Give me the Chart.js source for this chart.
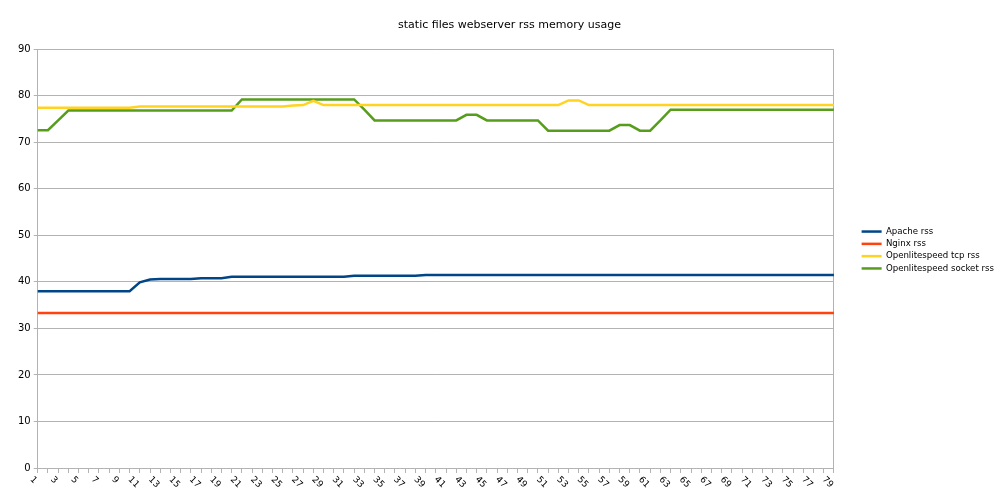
<!DOCTYPE html>
<html>
<head>
<meta charset="utf-8">
<script src="https://cdn.jsdelivr.net/npm/chart.js@4"></script>
<style>
  html, body { margin: 0; padding: 0; background: #fff; }
  #wrap { width: 1000px; height: 500px; }
</style>
</head>
<body>
<div id="wrap"><canvas id="myChart" width="1000" height="500"></canvas></div>
<script>
'use strict'

// categories (sample number)
var categories = ['1','2','3','4','5','6','7','8','9','10','11','12','13','14','15','16','17','18','19','20',
    '21','22','23','24','25','26','27','28','29','30','31','32','33','34','35','36','37','38','39','40',
    '41','42','43','44','45','46','47','48','49','50','51','52','53','54','55','56','57','58','59','60',
    '61','62','63','64','65','66','67','68','69','70','71','72','73','74','75','76','77','78','79'];

var seriesNames = ['Apache rss', 'Nginx rss', 'Openlitespeed tcp rss', 'Openlitespeed socket rss'];

var apacheRss = [38.0,38.0,38.0,38.0,38.0,38.0,38.0,38.0,38.0,38.0,
    39.9,40.5,40.6,40.6,40.6,40.6,40.8,40.8,40.8,41.1,
    41.1,41.1,41.1,41.1,41.1,41.1,41.1,41.1,41.1,41.1,
    41.1,41.3,41.3,41.3,41.3,41.3,41.3,41.3,41.5,41.5,
    41.5,41.5,41.5,41.5,41.5,41.5,41.5,41.5,41.5,41.5,
    41.5,41.5,41.5,41.5,41.5,41.5,41.5,41.5,41.5,41.5,
    41.5,41.5,41.5,41.5,41.5,41.5,41.5,41.5,41.5,41.5,
    41.5,41.5,41.5,41.5,41.5,41.5,41.5,41.5,41.5];

var nginxRss = [33.3,33.3,33.3,33.3,33.3,33.3,33.3,33.3,33.3,33.3,
    33.3,33.3,33.3,33.3,33.3,33.3,33.3,33.3,33.3,33.3,
    33.3,33.3,33.3,33.3,33.3,33.3,33.3,33.3,33.3,33.3,
    33.3,33.3,33.3,33.3,33.3,33.3,33.3,33.3,33.3,33.3,
    33.3,33.3,33.3,33.3,33.3,33.3,33.3,33.3,33.3,33.3,
    33.3,33.3,33.3,33.3,33.3,33.3,33.3,33.3,33.3,33.3,
    33.3,33.3,33.3,33.3,33.3,33.3,33.3,33.3,33.3,33.3,
    33.3,33.3,33.3,33.3,33.3,33.3,33.3,33.3,33.3];

var olsTcpRss = [77.4,77.4,77.4,77.4,77.4,77.4,77.4,77.4,77.4,77.4,
    77.7,77.7,77.7,77.7,77.7,77.7,77.7,77.7,77.7,77.7,
    77.7,77.7,77.7,77.7,77.7,77.9,78.0,78.9,78.0,78.0,
    78.0,78.0,78.0,78.0,78.0,78.0,78.0,78.0,78.0,78.0,
    78.0,78.0,78.0,78.0,78.0,78.0,78.0,78.0,78.0,78.0,
    78.0,78.0,79.0,79.0,78.0,78.0,78.0,78.0,78.0,78.0,
    78.0,78.0,78.0,78.0,78.0,78.0,78.0,78.0,78.0,78.0,
    78.0,78.0,78.0,78.0,78.0,78.0,78.0,78.0,78.0];

var olsSocketRss = [72.6,72.6,74.7,76.8,76.8,76.8,76.8,76.8,76.8,76.8,
    76.8,76.8,76.8,76.8,76.8,76.8,76.8,76.8,76.8,76.8,
    79.2,79.2,79.2,79.2,79.2,79.2,79.2,79.2,79.2,79.2,
    79.2,79.2,77.0,74.7,74.7,74.7,74.7,74.7,74.7,74.7,
    74.7,74.7,75.9,75.9,74.7,74.7,74.7,74.7,74.7,74.7,
    72.5,72.5,72.5,72.5,72.5,72.5,72.5,73.7,73.7,72.5,
    72.5,74.7,77.0,77.0,77.0,77.0,77.0,77.0,77.0,77.0,
    77.0,77.0,77.0,77.0,77.0,77.0,77.0,77.0,77.0];

var yTicks = [0, 10, 20, 30, 40, 50, 60, 70, 80, 90];

// 色 (LibreOffice default palette)
var defColor = ['#004586', '#ff420e', '#ffd320', '#579d1c'];
var gridColor = '#b3b3b3';
var fontName = '"DejaVu Sans", sans-serif';

// x軸ラベル: 45度 右下向き
var xLabelPlugin = {
    id: 'xLabels',
    afterDraw: function (chart) {
        var sc = chart.scales.x;
        var ctx = chart.ctx;
        var fs = 9;
        ctx.save();
        ctx.font = fs + 'px ' + fontName;
        ctx.fillStyle = '#000';
        ctx.textAlign = 'center';
        ctx.textBaseline = 'middle';
        for (var i = 0; i < categories.length; i += 2) {
            var x = sc.getPixelForValue(i);
            var w = ctx.measureText(categories[i]).width;
            var b = (w + fs) * Math.SQRT1_2;
            ctx.save();
            ctx.translate(x + 1 - b / 2, sc.top + 7 + b / 2);
            ctx.rotate(Math.PI / 4);
            ctx.fillText(categories[i], 0, 0);
            ctx.restore();
        }
        ctx.restore();
    }
};

function createDataSet(label, data, color) {
    return {
        label: label,
        data: data,
        borderColor: color,
        backgroundColor: color,
        borderWidth: 2.5,
        pointRadius: 0,
        tension: 0,
        fill: false
    };
}

window.onload = function () {
    var ctx = document.getElementById('myChart');
    new Chart(ctx, {
        type: 'line',
        data: {
            labels: categories,
            datasets: [
                createDataSet(seriesNames[0], apacheRss, defColor[0]),
                createDataSet(seriesNames[1], nginxRss, defColor[1]),
                createDataSet(seriesNames[2], olsTcpRss, defColor[2]),
                createDataSet(seriesNames[3], olsSocketRss, defColor[3])
            ]
        },
        options: {
            responsive: false,
            devicePixelRatio: 1,
            animation: false,
            layout: { padding: { left: 15, right: -4, top: 0, bottom: 0 } },
            plugins: {
                title: {
                    display: true,
                    text: 'static files webserver rss memory usage',
                    color: '#000',
                    font: { family: fontName, size: 11, weight: 'normal' },
                    padding: { top: 19, bottom: 17 }
                },
                legend: {
                    position: 'right',
                    labels: {
                        color: '#000',
                        font: { family: fontName, size: 8.6 },
                        usePointStyle: true,
                        pointStyle: 'line',
                        pointStyleWidth: 20,
                        boxHeight: 8.6,
                        padding: 3.7
                    }
                },
                tooltip: { enabled: false }
            },
            scales: {
                x: {
                    type: 'category',
                    offset: false,
                    ticks: { display: false, autoSkip: false },
                    grid: {
                        display: true,
                        drawOnChartArea: false,
                        drawTicks: true,
                        tickLength: 5,
                        color: gridColor,
                        offset: false
                    },
                    border: { color: gridColor },
                    afterFit: function (axis) { axis.height = 32; }
                },
                y: {
                    min: 0,
                    max: 90,
                    afterBuildTicks: function (axis) {
                        axis.ticks = yTicks.map(function (v) { return { value: v }; });
                    },
                    ticks: {
                        color: '#000',
                        font: { family: fontName, size: 10 },
                        padding: 3
                    },
                    grid: { color: gridColor, tickLength: 4 },
                    border: { color: gridColor }
                },
                y2: {
                    position: 'right',
                    min: 0,
                    max: 90,
                    ticks: { display: false },
                    grid: { drawOnChartArea: false, drawTicks: false },
                    border: { color: gridColor },
                    afterFit: function (axis) { axis.width = 24; }
                }
            }
        },
        plugins: [xLabelPlugin]
    });
};
</script>
</body>
</html>
